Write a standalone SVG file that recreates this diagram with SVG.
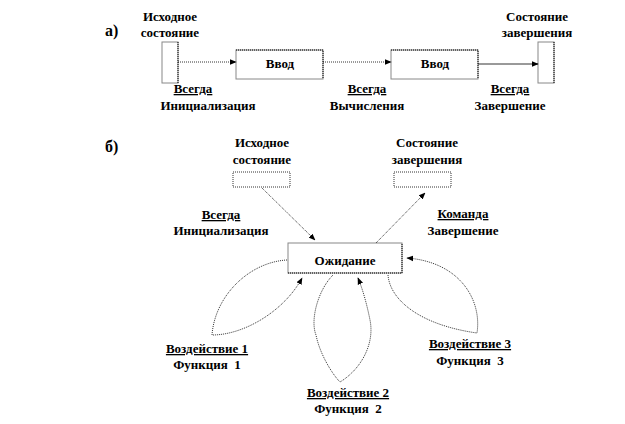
<svg xmlns="http://www.w3.org/2000/svg" width="625" height="424" viewBox="0 0 625 424">
<defs>
<marker id="ah" viewBox="0 0 10 10" refX="9" refY="5" markerWidth="7" markerHeight="7" orient="auto" markerUnits="userSpaceOnUse">
<path d="M0,1 L10,5 L0,9 Z" fill="#000"/>
</marker>
</defs>
<style>
text{font-family:'Liberation Serif','DejaVu Serif',serif;font-weight:700;font-size:13px;fill:#000;text-anchor:middle;white-space:pre}
.lbl{font-size:16px;text-anchor:start}
.u{text-decoration:underline}
.box{fill:#fff;stroke:#888;stroke-width:1}
.sh{fill:none;stroke:#000;stroke-width:1;stroke-dasharray:1,1}
.sbox{fill:#fff;stroke:#333;stroke-width:1;stroke-dasharray:1,1}
.c{fill:none;stroke:#000;stroke-width:0.8}
.d{fill:none;stroke:#000;stroke-width:0.8;stroke-dasharray:1,1}
</style>
<rect width="625" height="424" fill="#fff"/>
<text class="lbl" x="105" y="36">а)</text>
<text class="lbl" x="105" y="152">б)</text>

<g id="a-start">
<rect class="box" x="162" y="42" width="16" height="41"/>
<polyline class="sh" points="178,42 178,83"/>
<text x="170" y="21">Исходное</text>
<text x="170" y="37">состояние</text>
</g>
<g id="a-input1">
<rect class="box" x="236" y="50" width="87" height="29"/>
<polyline class="sh" points="236,50 323,50 323,79"/>
<text x="280" y="68">Ввод</text>
</g>
<g id="a-input2">
<rect class="box" x="391" y="50" width="87" height="29"/>
<polyline class="sh" points="391,50 478,50 478,79"/>
<text x="435" y="68">Ввод</text>
</g>
<g id="a-end">
<rect class="box" x="538" y="42" width="16" height="41"/>
<polyline class="sh" points="554,42 554,83"/>
<text x="537" y="21">Состояние</text>
<text x="537" y="37">завершения</text>
</g>

<g id="b-start">
<rect class="sbox" x="233" y="172" width="57" height="15"/>
<text x="262" y="147">Исходное</text>
<text x="262" y="164">состояние</text>
</g>
<g id="b-end">
<rect class="sbox" x="394" y="172" width="57" height="15"/>
<text x="427" y="147">Состояние</text>
<text x="427" y="164">завершения</text>
</g>
<g id="b-wait">
<rect class="box" x="288" y="243" width="114" height="30"/>
<polyline class="sh" points="288,273 402,273 402,243"/>
<text x="345" y="265">Ожидание</text>
</g>

<g id="connectors">
<line class="d" x1="178" y1="62" x2="236" y2="62" marker-end="url(#ah)"/>
<line class="d" x1="323" y1="62" x2="391" y2="62" marker-end="url(#ah)"/>
<line class="c" x1="478" y1="64" x2="538" y2="64" marker-end="url(#ah)"/>
<line class="d" x1="262" y1="188" x2="315" y2="240" marker-end="url(#ah)"/>
<line class="d" x1="376" y1="243" x2="425" y2="193" marker-end="url(#ah)"/>
<path class="d" d="M287,260 C250,262 215,295 212,335 C245,335 285,310 302,278" marker-end="url(#ah)"/>
<path class="d" d="M333,275 C318,290 310,320 316,335 C320,355 333,375 340,382 C360,370 375,345 370,320 C367,305 363,290 358,278" marker-end="url(#ah)"/>
<path class="d" d="M388,275 C390,300 420,325 477,333 C482,300 460,262 407,258" marker-end="url(#ah)"/>
</g>

<g id="labels">
<text class="u" x="193" y="93">Всегда</text>
<text x="208" y="110">Инициализация</text>
<text class="u" x="367" y="93">Всегда</text>
<text x="367" y="110">Вычисления</text>
<text class="u" x="510" y="93">Всегда</text>
<text x="510" y="110">Завершение</text>
<text class="u" x="221" y="219">Всегда</text>
<text x="221" y="235">Инициализация</text>
<text class="u" x="463" y="218">Команда</text>
<text x="463" y="235">Завершение</text>
<text class="u" x="207" y="353">Воздействие 1</text>
<text x="207" y="369">Функция  1</text>
<text class="u" x="348" y="397">Воздействие 2</text>
<text x="348" y="413">Функция  2</text>
<text class="u" x="470" y="348">Воздействие 3</text>
<text x="470" y="365">Функция  3</text>
</g>
</svg>
